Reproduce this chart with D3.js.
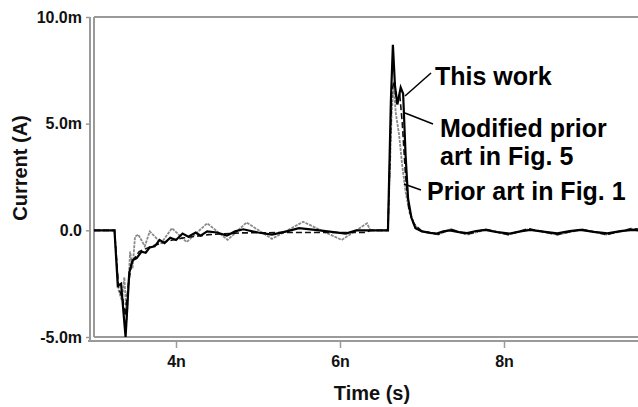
<!DOCTYPE html>
<html><head><meta charset="utf-8">
<script src="https://cdn.jsdelivr.net/npm/d3@7"></script>
<style>
html,body{margin:0;padding:0;background:#fff;}
svg{display:block;font-family:"Liberation Sans",Arial,sans-serif;font-weight:bold;}
</style></head>
<body><svg id="c" width="638" height="407"></svg>
<script>
// ---- data (time in ns, current in mA) ----
const workTime  = [3.0,3.25,3.29,3.33,3.385,3.43,3.47,3.52,3.58,3.63,3.68,3.74,3.8,3.86,3.93,4.0,4.08,4.15,4.24,4.3,4.38,4.5,4.62,4.72,4.82,5.0,5.17,5.35,5.5,5.75,6.07,6.2,6.25,6.585,6.62,6.645,6.67,6.70,6.74,6.77,6.80,6.83,6.87,6.92,7.0,7.1,7.18,7.26,7.34,7.45,7.55,7.66,7.77,7.92,8.07,8.2,8.32,8.5,8.65,8.8,8.93,9.1,9.26,9.42,9.57,9.8,10.0];
const workValue = [0,0,-2.6,-2.5,-5.0,-2.0,-1.4,-1.3,-1.0,-1.05,-0.8,-0.75,-0.45,-0.6,-0.35,-0.45,-0.15,-0.3,-0.1,-0.25,-0.05,-0.1,-0.25,-0.05,0.05,-0.1,-0.2,-0.05,0.1,0.0,-0.15,0.0,0.0,0.0,6.0,8.7,6.8,5.9,6.7,6.4,3.5,1.5,0.6,0.1,-0.05,-0.12,-0.15,-0.05,0.0,-0.08,-0.13,-0.03,0.02,-0.08,-0.15,-0.05,0.02,-0.07,-0.14,-0.04,0.02,-0.07,-0.14,-0.04,0.02,-0.05,0.0];

const modTime  = [3.0,3.25,3.3,3.35,3.38,3.42,3.46,3.55,3.7,3.9,4.1,4.4,4.8,5.5,6.3,6.38,6.585,6.63,6.66,6.69,6.73,6.76,6.80,6.84,6.9,7.0,7.2,7.35,7.55,7.78,8.05,8.3,8.65,8.95,9.25,9.55,10.0];
const modValue = [0,0,-2.7,-3.2,-4.0,-2.5,-1.5,-1.0,-0.75,-0.5,-0.35,-0.2,-0.12,-0.1,-0.1,0,0,6.5,7.0,6.0,6.3,5.0,2.5,1.0,0.3,-0.05,-0.18,0.05,-0.18,0.05,-0.2,0.08,-0.2,0.05,-0.2,0.08,0.0];

const priorTime  = [3.0,3.25,3.3,3.34,3.37,3.4,3.44,3.47,3.5,3.54,3.62,3.68,3.82,3.95,4.13,4.38,4.63,4.86,5.17,5.55,6.02,6.33,6.37,6.585,6.63,6.655,6.68,6.72,6.76,6.80,6.85,6.92,7.0,7.2,7.35,7.55,7.78,8.05,8.3,8.65,8.95,9.25,9.55,10.0];
const priorValue = [0,0,-2.8,-3.3,-2.2,-4.2,-1.0,-1.8,-0.3,-0.2,-0.75,-0.05,-0.6,0.1,-0.55,0.33,-0.45,0.37,-0.4,0.4,-0.45,0.33,0,0,5.5,6.8,5.5,4.5,3.0,1.8,0.8,0.2,-0.05,-0.2,0.05,-0.2,0.03,-0.2,0.05,-0.2,0.03,-0.2,0.05,0.0];

const yTicks = [-5,0,5,10];
const yTickLabels = ["-5.0m","0.0","5.0m","10.0m"];
const xTicks = [4,6,8];
const xTickLabels = ["4n","6n","8n"];
const annotations = ["This work","Modified prior","art in Fig. 5","Prior art in Fig. 1"];

// ---- drawing ----
const svg = d3.select("#c");
const x = d3.scaleLinear().domain([3,10]).range([94,668]);
const y = d3.scaleLinear().domain([-5,10]).range([337,17]);
const grey = "#9a9a9a";

svg.append("defs").append("clipPath").attr("id","clip")
  .append("rect").attr("x",94).attr("y",10).attr("width",560).attr("height",330);

// frame
svg.append("line").attr("x1",94).attr("x2",640).attr("y1",17).attr("y2",17).attr("stroke",grey).attr("stroke-width",2);
svg.append("line").attr("x1",94).attr("x2",94).attr("y1",17).attr("y2",337).attr("stroke",grey).attr("stroke-width",2);
svg.append("line").attr("x1",94).attr("x2",640).attr("y1",337).attr("y2",337).attr("stroke",grey).attr("stroke-width",2);
// axis lines
svg.append("line").attr("x1",90).attr("x2",90).attr("y1",17).attr("y2",341).attr("stroke",grey).attr("stroke-width",2);
svg.append("line").attr("x1",88).attr("x2",640).attr("y1",341).attr("y2",341).attr("stroke",grey).attr("stroke-width",2);

const yAxis = d3.axisLeft(y).tickValues(yTicks).tickSize(4).tickPadding(4)
  .tickFormat((d,i)=>yTickLabels[i]);
const gy = svg.append("g").attr("transform","translate(90,0)").call(yAxis);
gy.select(".domain").remove();
gy.selectAll(".tick line").attr("stroke",grey).attr("stroke-width",1.5);
gy.selectAll(".tick text").attr("font-size",16).attr("font-family","Liberation Sans, Arial, sans-serif").attr("font-weight","bold").attr("fill","#111");

const xAxis = d3.axisBottom(x).tickValues(xTicks).tickSize(7).tickPadding(8)
  .tickFormat((d,i)=>xTickLabels[i]);
const gx = svg.append("g").attr("transform","translate(0,341)").call(xAxis);
gx.select(".domain").remove();
gx.selectAll(".tick line").attr("stroke",grey).attr("stroke-width",1.5);
gx.selectAll(".tick text").attr("font-size",16).attr("font-family","Liberation Sans, Arial, sans-serif").attr("font-weight","bold").attr("fill","#111");

svg.append("text").attr("x",372).attr("y",400).attr("text-anchor","middle")
  .attr("font-size",20).attr("fill","#111").text("Time (s)");
svg.append("text").attr("transform","translate(27,168) rotate(-90)").attr("text-anchor","middle")
  .attr("font-size",20).attr("fill","#111").text("Current (A)");

const line = d3.line().x(d=>x(d[0])).y(d=>y(d[1]));
const plot = svg.append("g").attr("clip-path","url(#clip)");
plot.append("path").datum(d3.zip(priorTime,priorValue)).attr("d",line)
  .attr("fill","none").attr("stroke","#8a8a8a").attr("stroke-width",1.8).attr("stroke-dasharray","3,1");
plot.append("path").datum(d3.zip(modTime,modValue)).attr("d",line)
  .attr("fill","none").attr("stroke","#111").attr("stroke-width",1.6).attr("stroke-dasharray","6,3");
plot.append("path").datum(d3.zip(workTime,workValue)).attr("d",line)
  .attr("fill","none").attr("stroke","#000").attr("stroke-width",2.2);

// annotations
const ann = svg.append("g").attr("font-size",25).attr("fill","#000");
ann.append("text").attr("x",435).attr("y",85).text(annotations[0]);
ann.append("text").attr("x",440).attr("y",137).text(annotations[1]);
ann.append("text").attr("x",440).attr("y",165).text(annotations[2]);
ann.append("text").attr("x",427).attr("y",200).text(annotations[3]);
const lk = [[431,73,405,96],[433,124,405,113],[421,190,404,184]];
lk.forEach(l=>svg.append("line").attr("x1",l[0]).attr("y1",l[1]).attr("x2",l[2]).attr("y2",l[3]).attr("stroke","#000").attr("stroke-width",1.5));
</script></body></html>
